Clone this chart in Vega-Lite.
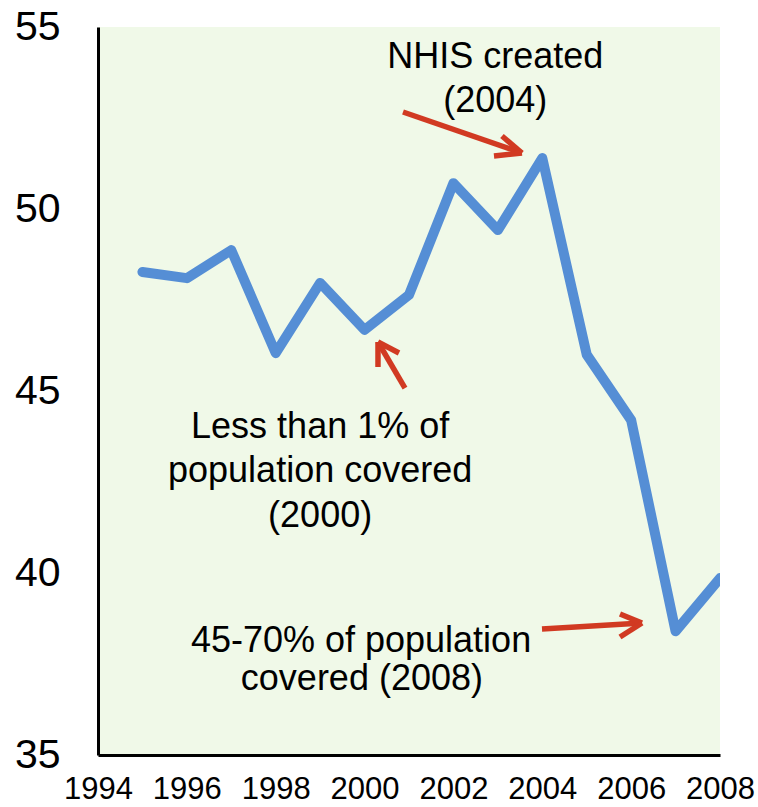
{
  "$schema": "https://vega.github.io/schema/vega-lite/v6.json",
  "width": 622,
  "height": 728,
  "autosize": {"type": "none"},
  "padding": {"left": 98, "top": 27, "right": 38, "bottom": 52},
  "background": "#ffffff",
  "view": {"fill": "#F0F9E8", "stroke": null},
  "config": {
    "font": "Liberation Sans",
    "axis": {
      "grid": false,
      "ticks": false,
      "title": null,
      "domainColor": "#000000",
      "domainWidth": 3,
      "labelColor": "#000000",
      "labelFont": "Liberation Sans"
    }
  },
  "datasets": {
    "series": [
      {"year": 1995, "value": 48.27},
      {"year": 1996, "value": 48.1},
      {"year": 1997, "value": 48.87},
      {"year": 1998, "value": 46.04},
      {"year": 1999, "value": 47.97},
      {"year": 2000, "value": 46.68},
      {"year": 2001, "value": 47.64},
      {"year": 2002, "value": 50.71},
      {"year": 2003, "value": 49.42},
      {"year": 2004, "value": 51.4},
      {"year": 2005, "value": 46.0},
      {"year": 2006, "value": 44.2},
      {"year": 2007, "value": 38.4},
      {"year": 2008, "value": 39.86}
    ],
    "arrows": [
      {"x1": 2000.865, "y1": 52.665, "x2": 2003.543, "y2": 51.538},
      {"x1": 2003.093, "y1": 52.005, "x2": 2003.543, "y2": 51.538},
      {"x1": 2002.913, "y1": 51.456, "x2": 2003.543, "y2": 51.538},
      {"x1": 2000.91, "y1": 45.08, "x2": 2000.302, "y2": 46.346},
      {"x1": 2000.302, "y1": 45.66, "x2": 2000.302, "y2": 46.346},
      {"x1": 2000.775, "y1": 46.044, "x2": 2000.302, "y2": 46.346},
      {"x1": 2003.993, "y1": 38.462, "x2": 2006.244, "y2": 38.626},
      {"x1": 2005.749, "y1": 38.874, "x2": 2006.244, "y2": 38.626},
      {"x1": 2005.749, "y1": 38.242, "x2": 2006.244, "y2": 38.626}
    ],
    "notes": [
      {"x": 2002.94, "y": 53.87, "label": "NHIS created"},
      {"x": 2002.94, "y": 52.66, "label": "(2004)"},
      {"x": 1999.0, "y": 43.71, "label": "Less than 1% of"},
      {"x": 1999.0, "y": 42.5, "label": "population covered"},
      {"x": 1999.0, "y": 41.26, "label": "(2000)"},
      {"x": 1999.92, "y": 37.83, "label": "45-70% of population"},
      {"x": 1999.94, "y": 36.79, "label": "covered (2008)"}
    ]
  },
  "layer": [
    {
      "data": {"name": "series"},
      "mark": {"type": "line", "color": "#558ED5", "strokeWidth": 10, "strokeCap": "round", "strokeJoin": "round", "clip": true},
      "encoding": {
        "x": {
          "field": "year",
          "type": "quantitative",
          "scale": {"domain": [1994, 2008], "nice": false, "zero": false},
          "axis": {
            "values": [1994, 1996, 1998, 2000, 2002, 2004, 2006, 2008],
            "format": "d",
            "labelFontSize": 31,
            "labelPadding": 19,
            "labelFlush": false,
            "labelOverlap": false
          }
        },
        "y": {
          "field": "value",
          "type": "quantitative",
          "scale": {"domain": [35, 55], "nice": false, "zero": false},
          "axis": {
            "values": [35, 40, 45, 50, 55],
            "labelFontSize": 41,
            "labelPadding": 38,
            "labelFlush": false,
            "labelOverlap": false
          }
        }
      }
    },
    {
      "data": {"name": "arrows"},
      "mark": {"type": "rule", "color": "#D13A22", "strokeWidth": 5.5, "strokeCap": "butt"},
      "encoding": {
        "x": {"field": "x1", "type": "quantitative"},
        "y": {"field": "y1", "type": "quantitative"},
        "x2": {"field": "x2"},
        "y2": {"field": "y2"}
      }
    },
    {
      "data": {"name": "notes"},
      "mark": {"type": "text", "fontSize": 36, "font": "Liberation Sans", "color": "#000000", "align": "center", "baseline": "alphabetic"},
      "encoding": {
        "x": {"field": "x", "type": "quantitative"},
        "y": {"field": "y", "type": "quantitative"},
        "text": {"field": "label"}
      }
    }
  ]
}
